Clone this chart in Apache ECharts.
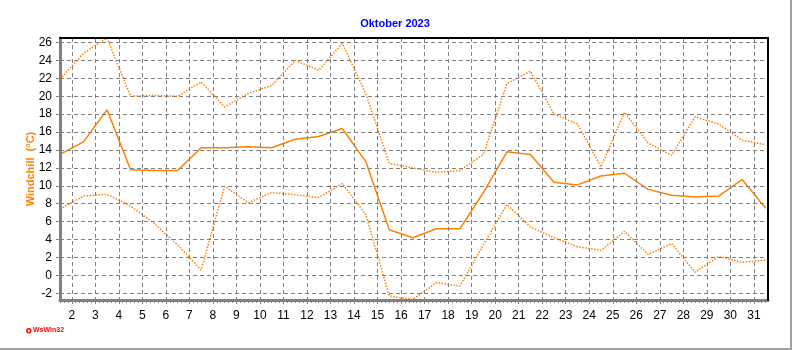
<!DOCTYPE html>
<html>
<head>
<meta charset="utf-8">
<script src="https://cdn.jsdelivr.net/npm/echarts@6/dist/echarts.min.js"></script>
<style>
html,body{margin:0;padding:0;background:#fff;}
#chart{width:790px;height:348px;border-right:2px solid #a0a0a0;border-bottom:2px solid #a0a0a0;}
</style>
</head>
<body>
<div id="chart"></div>
<script>
// Days of October 2023 (daily values plotted at noon of each day)
var days = [1,2,3,4,5,6,7,8,9,10,11,12,13,14,15,16,17,18,19,20,21,22,23,24,25,26,27,28,29,30,31];
// Windchill (°C)
var maxValues = [21.9,24.8,26.5,20.0,20.1,20.0,21.6,18.8,20.3,21.2,24.0,22.9,25.9,20.3,12.5,12.0,11.5,11.7,13.5,21.4,22.8,18.0,16.9,12.1,18.2,14.8,13.4,17.7,16.9,15.1,14.6];
var avgValues = [13.5,14.9,18.5,11.8,11.7,11.7,14.25,14.25,14.35,14.25,15.2,15.5,16.4,12.7,5.1,4.2,5.2,5.2,9.25,13.8,13.5,10.4,10.1,11.1,11.4,9.6,8.95,8.75,8.85,10.7,7.5];
var minValues = [7.4,8.85,9.05,7.75,5.8,3.4,0.6,9.95,8.1,9.25,9.0,8.7,10.25,6.8,-2.3,-2.7,-0.8,-1.2,3.4,7.9,5.4,4.2,3.2,2.8,4.9,2.35,3.55,0.35,2.1,1.45,1.7];
// tick labels
var xTicks = [2,3,4,5,6,7,8,9,10,11,12,13,14,15,16,17,18,19,20,21,22,23,24,25,26,27,28,29,30,31];
var yTicks = [-2,0,2,4,6,8,10,12,14,16,18,20,22,24,26];
var titleText = 'Oktober 2023';
var yName = 'Windchill  (°C)';
var logoText = 'WsWin32';

function pts(vals){ return days.map(function(d,i){ return [d + 0.5, vals[i]]; }); }

var xMin = 1.5, xMax = 31.6, yMin = -2.75, yMax = 26.5;
// minor ticks every 4 hours
var xMinor = [];
for (var k = Math.ceil(xMin * 6); k <= Math.floor(xMax * 6); k++) { if (k % 6 !== 0) xMinor.push(k / 6); }

var orange = '#ff8000';
var font = 'Liberation Sans, Arial, sans-serif';
var gridLine = {show:true,lineStyle:{color:'#808080',type:[4,3],width:1}};
var chart = echarts.init(document.getElementById('chart'), null, {renderer:'canvas'});
chart.setOption({
  animation:false,
  backgroundColor:'#fff',
  title:{text:titleText,left:'center',top:13,textStyle:{color:'#0000ff',fontSize:11,fontWeight:'bold',fontFamily:font}},
  grid:{left:60,right:22,top:38,bottom:48,show:false},
  xAxis:[{
    type:'value',min:xMin,max:xMax,
    axisLine:{show:true,onZero:false,lineStyle:{color:'#808080',width:3}},
    axisTick:{show:true,length:4,customValues:xTicks,lineStyle:{color:'#808080'}},
    axisLabel:{color:'#000',fontSize:12,margin:10,fontFamily:font,customValues:xTicks},
    splitLine:gridLine,
    z:5
  },{
    type:'value',min:xMin,max:xMax,position:'bottom',
    axisLine:{show:false,onZero:false},axisLabel:{show:false},splitLine:{show:false},minorSplitLine:{show:false},
    axisTick:{show:true,length:3,customValues:xMinor,lineStyle:{color:'#808080'}}
  },{
    type:'value',min:xMin,max:xMax,position:'top',
    axisLine:{show:true,onZero:false,lineStyle:{color:'#000',width:2}},
    axisTick:{show:false},axisLabel:{show:false},splitLine:{show:false},z:10
  }],
  yAxis:[{
    type:'value',min:yMin,max:yMax,
    name:yName,nameLocation:'middle',nameGap:24,nameMoveOverlap:false,
    nameTextStyle:{color:orange,fontSize:11,fontWeight:'bold',fontFamily:font},
    axisLine:{show:true,onZero:false,lineStyle:{color:'#808080',width:3}},
    axisTick:{show:true,length:4,customValues:yTicks,lineStyle:{color:'#808080'}},
    axisLabel:{color:'#000',fontSize:12,margin:8,fontFamily:font,customValues:yTicks},
    splitLine:gridLine,
    z:5
  },{
    type:'value',min:yMin,max:yMax,position:'right',
    axisLine:{show:true,onZero:false,lineStyle:{color:'#000',width:2}},
    axisTick:{show:false},axisLabel:{show:false},splitLine:{show:false},z:10
  }],
  graphic:[
    {type:'circle',left:26,top:328,shape:{r:2},style:{fill:'#fff',stroke:'#ff0000',lineWidth:1.5}},
    {type:'text',left:33,top:327,style:{text:logoText,fill:'#ff0000',font:'bold 7px '+font}}
  ],
  series:[
    {type:'line',name:'max',data:pts(maxValues),symbol:'none',z:3,lineStyle:{color:orange,width:1.5,type:[1.5,1.5]}},
    {type:'line',name:'avg',data:pts(avgValues),symbol:'none',z:3,lineStyle:{color:orange,width:1.5,type:'solid'}},
    {type:'line',name:'min',data:pts(minValues),symbol:'none',z:3,lineStyle:{color:orange,width:1.5,type:[1.5,1.5]}}
  ]
});
</script>
</body>
</html>
